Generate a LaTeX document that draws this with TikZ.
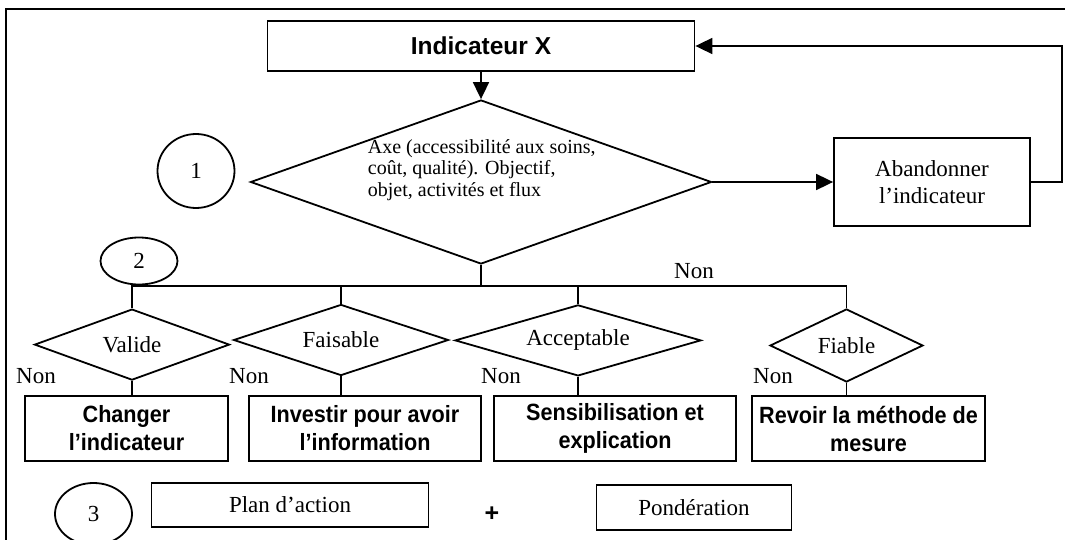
\documentclass[tikz,border=0pt]{standalone}
\usepackage{fontspec}
\setmainfont{Liberation Serif}
\setsansfont{Liberation Sans}
\newfontfamily\boxsans{Liberation Sans}[FakeStretch=0.92]
\usetikzlibrary{shapes.geometric,arrows.meta}
\begin{document}
\begin{tikzpicture}[x=1pt,y=-1pt,line width=1.8pt,
  box/.style={draw,rectangle,inner sep=0pt,align=center},
  dia/.style={draw,diamond,inner sep=0pt},
  num/.style={draw,ellipse,inner sep=0pt,font=\fontsize{23}{27}\selectfont},
  ser/.style={font=\fontsize{23}{27}\selectfont},
  bsans/.style={font=\boxsans\bfseries\fontsize{23.5}{28}\selectfont},
  arr/.style={-{Triangle[length=17pt,width=16pt]}}]
\useasboundingbox (0,0) rectangle (1065,540);
% frame
\coordinate (frTR) at (1065,9);
\coordinate (frTL) at (6,9);
\coordinate (frBL) at (6,540);
\draw[line width=1.3pt] (frTR) -- (frTL) -- (frBL);
% top box
\node[box,font=\sffamily\bfseries\fontsize{24.5}{28}\selectfont,minimum width=427pt,minimum height=50pt] (ind) at (481,46) {Indicateur X};
% main diamond
\node[dia,minimum width=461pt,minimum height=164pt] (d1) at (481,182) {};
\node[align=left,anchor=west,inner sep=0pt,font=\fontsize{20}{21.5}\selectfont] (d1t) at (367,170) {Axe (accessibilité aux soins,\\coût, qualité). Objectif,\\objet, activités et flux};
% abandon
\node[box,ser,minimum width=196pt,minimum height=88pt] (ab) at (932,182) {Abandonner\\l’indicateur};
\coordinate (fb) at (1062,0);
\draw[arr] (ind.south) -- (d1.north);
\draw[arr] (d1.east) -- (ab.west);
\draw[arr] (ab.east) -- (ab.east -| fb) |- (ind.east);
\node[ser] (nonTop) at (694,271) {Non};
% numbers
\node[num,minimum width=77pt,minimum height=74pt] (n1) at (196,171) {1};
\node[num,minimum width=77pt,minimum height=47pt] (n2) at (139,261) {2};
\node[num,minimum width=77pt,minimum height=62pt] (n3) at (93.5,514) {3};
% bus
\coordinate (bus) at (481,286);
% small diamonds
\node[dia,ser,aspect=3,minimum width=195pt,minimum height=71pt] (va) at (132,344.6) {Valide};
\node[dia,ser,aspect=3,minimum width=215pt,minimum height=71pt] (fa) at (341,340) {Faisable};
\node[dia,ser,aspect=3.4,minimum width=246pt,minimum height=71pt] (ac) at (578,340.4) {Acceptable};
\node[dia,ser,aspect=2.1,minimum width=153pt,minimum height=73pt] (fi) at (846.5,345.5) {Fiable};
\draw (d1.south) -- (bus);
\draw (va.north) -- (va.north |- bus) -- (fi.north |- bus) -- (fi.north);
\draw (fa.north) -- (fa.north |- bus);
\draw (ac.north) -- (ac.north |- bus);
% result boxes
\node[box,bsans,minimum width=203pt,minimum height=65pt] (c1) at (126.5,428.5) {Changer\\l’indicateur};
\node[box,bsans,minimum width=232pt,minimum height=65pt] (c2) at (365,428.5) {Investir pour avoir\\l’information};
\node[box,bsans,minimum width=242pt,minimum height=65pt] (c3) at (615,428.5) {Sensibilisation et\\explication};
\node[box,bsans,minimum width=233pt,minimum height=65pt] (c4) at (868.5,428.5) {Revoir la méthode de\\mesure};
\draw (va.south) -- (va.south |- c1.north);
\draw (fa.south) -- (fa.south |- c2.north);
\draw (ac.south) -- (ac.south |- c3.north);
\draw (fi.south) -- (fi.south |- c4.north);
% Non labels
\node[ser] (non1) at (36,376) {Non};
\node[ser] (non2) at (249,376) {Non};
\node[ser] (non3) at (501,376) {Non};
\node[ser] (non4) at (773,376) {Non};
% bottom row
\node[box,ser,minimum width=277pt,minimum height=44pt] (plan) at (290,504.6) {Plan d’action};
\node[font=\sffamily\bfseries\fontsize{25}{28}\selectfont] (plus) at (492,514) {+};
\node[box,ser,minimum width=195pt,minimum height=45pt] (pond) at (694,507.4) {Pondération};
\end{tikzpicture}
\end{document}
